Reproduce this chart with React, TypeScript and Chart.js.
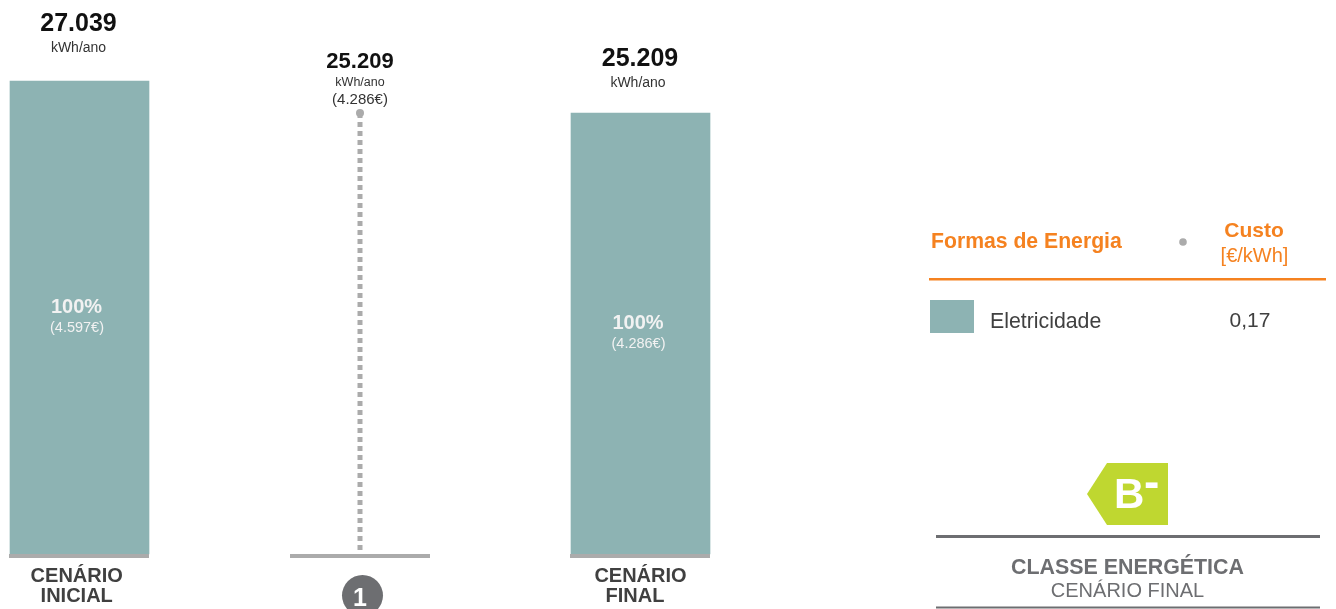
import React, { useEffect, useRef } from "react";
import { Chart, registerables } from "chart.js";

Chart.register(...registerables);

// Annual energy use per scenario (kWh/ano)
const scenarios = ["CENÁRIO INICIAL", "1", "CENÁRIO FINAL"];
const barValues = [27039, null, 25209];
const measureValues = [25209, 0];
const totalLabels = ["27.039", "25.209", "25.209"];
const shareLabels = ["100%", null, "100%"];
const shareCosts = ["(4.597€)", null, "(4.286€)"];
const measureCost = "(4.286€)";
const unitLabel = "kWh/ano";

const BAR = "#8DB3B3";
const BASE = "#ABABAB";
const SANS = '"Liberation Sans", Arial, sans-serif';
const DARK = "#6D6E71";
const ORANGE = "#F58220";

const text = (
  c: CanvasRenderingContext2D,
  s: string,
  x: number,
  y: number,
  font: string,
  color: string
) => {
  c.font = font;
  c.fillStyle = color;
  c.textAlign = "center";
  c.textBaseline = "alphabetic";
  c.fillText(s, x, y);
};

// Dark disc behind the numbered measure label; painted before the axis labels
const measureDisc = {
  id: "measureDisc",
  beforeDraw(chart: any) {
    const c = chart.ctx;
    const x = chart.scales.x.getPixelForValue(1);
    c.save();
    c.fillStyle = DARK;
    c.beginPath();
    c.arc(x + 2.5, 595.5, 20.5, 0, Math.PI * 2);
    c.fill();
    c.restore();
  },
};

// Grey foot under each column plus the texts above and inside the columns
const columnLabels = {
  id: "columnLabels",
  afterDatasetsDraw(chart: any) {
    const c = chart.ctx;
    const xs = chart.scales.x;
    const ys = chart.scales.y;
    c.save();
    const base = ys.getPixelForValue(0);
    scenarios.forEach((_, i) => {
      const x = xs.getPixelForValue(i);
      c.fillStyle = BASE;
      c.fillRect(Math.floor(x - 70), base, 140, 4);
    });
    // First column
    const x0 = xs.getPixelForValue(0);
    const top0 = ys.getPixelForValue(barValues[0]);
    text(c, totalLabels[0], x0 - 1, top0 - 50, `bold 25px ${SANS}`, "#111");
    text(c, unitLabel, x0 - 1, top0 - 29, `14px ${SANS}`, "#333");
    text(c, shareLabels[0]!, x0 - 3, (top0 + base) / 2 - 4, `bold 20px ${SANS}`, "#F2F2F2");
    text(c, shareCosts[0]!, x0 - 2.5, (top0 + base) / 2 + 15, `14.5px ${SANS}`, "#F2F2F2");
    // Measure stem
    const x1 = xs.getPixelForValue(1);
    const top1 = ys.getPixelForValue(measureValues[0]);
    text(c, totalLabels[1], x1, top1 - 45, `bold 22px ${SANS}`, "#111");
    text(c, unitLabel, x1, top1 - 27, `12.5px ${SANS}`, "#333");
    text(c, measureCost, x1, top1 - 9, `15px ${SANS}`, "#333");
    // Last column
    const x2 = xs.getPixelForValue(2);
    const top2 = ys.getPixelForValue(barValues[2]);
    text(c, totalLabels[2], x2 - 0.5, top2 - 47, `bold 25px ${SANS}`, "#111");
    text(c, unitLabel, x2 - 2.5, top2 - 26, `14px ${SANS}`, "#333");
    text(c, shareLabels[2]!, x2 - 2.5, (top2 + base) / 2 - 4, `bold 20px ${SANS}`, "#F2F2F2");
    text(c, shareCosts[2]!, x2 - 2, (top2 + base) / 2 + 15, `14.5px ${SANS}`, "#F2F2F2");
    c.restore();
  },
};

export default function App() {
  const ref = useRef<HTMLCanvasElement>(null);

  useEffect(() => {
    document.body.style.margin = "0";
    const chart = new Chart(ref.current!, {
      type: "bar",
      plugins: [measureDisc, columnLabels],
      data: {
        labels: scenarios,
        datasets: [
          {
            type: "bar",
            data: barValues,
            backgroundColor: BAR,
            barThickness: 139,
            clip: false,
          } as any,
          {
            type: "line",
            data: measureValues.map((y) => ({ x: scenarios[1], y })),
            borderColor: BASE,
            borderWidth: 5,
            borderDash: [5, 4],
            pointRadius: (ctx: any) => (ctx.dataIndex === 0 ? 4 : 0),
            pointBackgroundColor: BASE,
            pointBorderWidth: 0,
            clip: false,
          } as any,
        ],
      },
      options: {
        animation: false,
        responsive: false,
        events: [],
        layout: { autoPadding: false, padding: { left: 79.5, right: 695.5, top: 0, bottom: 0 } },
        plugins: { legend: { display: false }, tooltip: { enabled: false } },
        scales: {
          x: {
            offset: false,
            grid: { display: false },
            border: { display: false },
            afterFit: (s: any) => {
              s.height = 55;
            },
            ticks: {
              autoSkip: false,
              maxRotation: 0,
              minRotation: 0,
              padding: 4,
              color: (ctx: any) => (ctx.index === 1 ? "#FFFFFF" : "#404040"),
              font: (ctx: any) =>
                ctx.index === 1
                  ? { family: SANS, size: 25, weight: "bold", lineHeight: 0.88 }
                  : { family: SANS, size: 20, weight: "bold", lineHeight: 1 },
              callback: function (this: any, _v: any, i: number) {
                const words = scenarios[i].split(" ");
                if (i === 1) return ["", words[0]];
                if (i === 0) return [words[0] + "\u00A0", words[1] + "\u00A0"];
                return [words[0], words[1] + "\u00A0\u00A0"];
              },
            },
          },
          y: {
            display: false,
            min: 0,
            max: 31667,
          },
        },
      },
    } as any);
    return () => chart.destroy();
  }, []);

  const f = SANS;
  return (
    <div style={{ position: "absolute", left: 0, top: 0, width: 1336, height: 609, overflow: "hidden", background: "#fff" }}>
      <canvas ref={ref} width={1336} height={609} style={{ display: "block" }} />
      <svg width={1336} height={609} style={{ position: "absolute", left: 0, top: 0 }} fontFamily={f}>
        <text x={931} y={248} fontSize={21.2} fontWeight="bold" fill={ORANGE}>Formas de Energia</text>
        <circle cx={1183} cy={242} r={3.8} fill={BASE} />
        <text x={1254} y={237} fontSize={21} fontWeight="bold" fill={ORANGE} textAnchor="middle">Custo</text>
        <text x={1254.5} y={262} fontSize={20} fill={ORANGE} textAnchor="middle">[€/kWh]</text>
        <rect x={929} y={278} width={397} height={2.5} fill={ORANGE} />
        <rect x={930} y={300} width={44} height={33} fill={BAR} />
        <text x={990} y={328} fontSize={21.3} fill="#404040">Eletricidade</text>
        <text x={1250} y={327} fontSize={21} fill="#404040" textAnchor="middle">0,17</text>

        <polygon points="1087,494 1107,463 1168,463 1168,525 1107,525" fill="#BFD730" />
        <text x={1114} y={508} fontSize={42} fontWeight="bold" fill="#fff">B</text>
        <text x={1144} y={497} fontSize={46} fontWeight="bold" fill="#fff">-</text>

        <rect x={936} y={535} width={384} height={3} fill={DARK} />
        <text x={1127.5} y={574} fontSize={21.4} fontWeight="bold" fill={DARK} textAnchor="middle">CLASSE ENERGÉTICA</text>
        <text x={1127.5} y={597} fontSize={20} fill={DARK} textAnchor="middle">CENÁRIO FINAL</text>
        <rect x={936} y={606.5} width={384} height={2} fill={DARK} />
      </svg>
    </div>
  );
}
